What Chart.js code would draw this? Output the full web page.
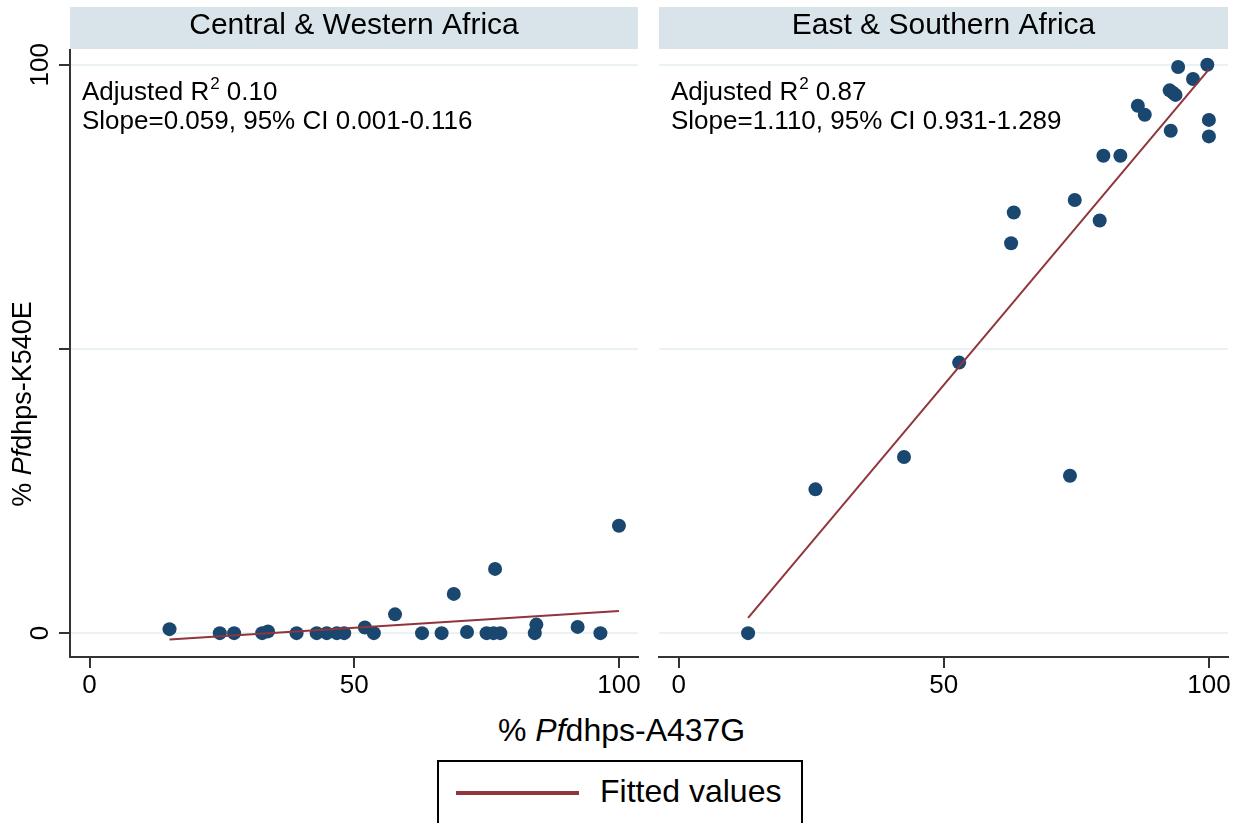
<!DOCTYPE html>
<html>
<head>
<meta charset="utf-8">
<script src="https://cdn.jsdelivr.net/npm/chart.js@4.4.1/dist/chart.umd.min.js"></script>
<style>
  body { margin:0; background:#fff; width:1240px; height:823px; position:relative; overflow:hidden;
         font-family:'Liberation Sans', Arial, sans-serif; color:#000; }
  #leftChart { position:absolute; left:0; top:0; }
  #rightChart { position:absolute; left:645px; top:0; }
  #xTitle { position:absolute; left:498px; top:712px; font-size:32px; white-space:nowrap; }
  #legend { position:absolute; left:437px; top:760px; width:366px; height:70px; border:2px solid #000; box-sizing:border-box; }
  #legend .swatch { position:absolute; left:17px; top:29px; width:123px; height:4px; background:#90353b; }
  #legend .lbl { position:absolute; left:161px; top:11px; font-size:32px; }
</style>
</head>
<body>
<canvas id="leftChart" width="645" height="712"></canvas>
<canvas id="rightChart" width="595" height="712"></canvas>
<div id="xTitle">% <i>Pf</i>dhps-A437G</div>
<div id="legend"><div class="swatch"></div><div class="lbl">Fitted values</div></div>

<script>
// panels
const panelTitles = ['Central & Western Africa', 'East & Southern Africa'];
const panelNotes = [
  ['Adjusted R', '0.10', 'Slope=0.059, 95% CI 0.001-0.116'],
  ['Adjusted R', '0.87', 'Slope=1.110, 95% CI 0.931-1.289']
];

// Central & Western Africa: % A437G vs % K540E
const cwX = [15.1, 24.6, 27.3, 32.6, 33.7, 39.1, 42.9, 44.8, 46.7, 48.1, 52.0, 53.7, 57.7,
             62.8, 66.5, 68.8, 71.3, 75.0, 76.3, 76.6, 77.6, 84.1, 84.4, 92.2, 96.5, 100];
const cwY = [0.7, 0, 0, 0, 0.3, 0, 0, 0, 0, 0, 1.0, 0, 3.3,
             0, 0, 6.9, 0.2, 0, 0, 11.3, 0, 0, 1.5, 1.1, 0, 18.9];
const cwFitX = [15.1, 100];
const cwFitY = [-1.1, 3.9];

// East & Southern Africa
const esX = [13.1, 25.8, 42.5, 52.9, 73.8, 62.7, 63.2, 74.7, 79.4, 80.1, 83.3, 86.6, 87.9,
             92.8, 92.6, 93.7, 93.2, 94.2, 97.0, 99.7, 100, 100];
const esY = [0, 25.3, 31.0, 47.6, 27.7, 68.6, 74.0, 76.2, 72.6, 84.0, 84.0, 92.8, 91.2,
             88.4, 95.5, 94.7, 95.1, 99.6, 97.5, 100, 90.3, 87.4];
const esFitX = [13.1, 100];
const esFitY = [2.7, 99.2];

const yTicks = [0, 50, 100];
const yTickLabels = ['0', '', '100'];
const xTicks = [0, 50, 100];

const FONT = "'Liberation Sans', Arial, sans-serif";
const markerColor = '#1a476f';
const fitColor = '#90353b';
const gridColor = '#eaf2f3';

function toPoints(xs, ys) {
  return xs.map((x, i) => ({ x: x, y: ys[i] }));
}

const panelDecor = {
  id: 'panelDecor',
  beforeDraw(chart, args, opts) {
    const ctx = chart.ctx, area = chart.chartArea;
    ctx.save();
    ctx.fillStyle = '#d9e4ea';
    ctx.fillRect(area.left, 7, area.right - area.left, 42);
    ctx.fillStyle = '#000';
    ctx.font = '30px ' + FONT;
    ctx.textAlign = 'center';
    ctx.textBaseline = 'alphabetic';
    ctx.fillText(opts.title, (area.left + area.right) / 2, 34);
    ctx.restore();
  },
  afterDraw(chart, args, opts) {
    const ctx = chart.ctx, area = chart.chartArea;
    ctx.save();
    ctx.fillStyle = '#000';
    ctx.textAlign = 'left';
    ctx.textBaseline = 'alphabetic';
    // first note line with superscript 2
    let x = area.left + 12;
    ctx.font = '26px ' + FONT;
    ctx.fillText(opts.notes[0], x, 100);
    x += ctx.measureText(opts.notes[0]).width + 1;
    ctx.font = '17px ' + FONT;
    ctx.fillText('2', x, 89);
    x += ctx.measureText('2').width;
    ctx.font = '26px ' + FONT;
    ctx.fillText(' ' + opts.notes[1], x, 100);
    ctx.fillText(opts.notes[2], area.left + 12, 129);
    if (opts.yLabels) {
      const ys = chart.scales.y;
      ctx.textAlign = 'center';
      yTicks.forEach((v, i) => {
        if (!yTickLabels[i]) return;
        ctx.save();
        ctx.translate(48, ys.getPixelForValue(v));
        ctx.rotate(-Math.PI / 2);
        ctx.fillText(yTickLabels[i], 0, 0);
        ctx.restore();
      });
      // y axis title
      ctx.save();
      ctx.translate(31, 404);
      ctx.rotate(-Math.PI / 2);
      ctx.textAlign = 'left';
      const parts = [['% ', ''], ['Pf', 'italic '], ['dhps-K540E', '']];
      let w = 0;
      parts.forEach(p => { ctx.font = p[1] + '27px ' + FONT; w += ctx.measureText(p[0]).width; });
      let px = -w / 2;
      parts.forEach(p => {
        ctx.font = p[1] + '27px ' + FONT;
        ctx.fillText(p[0], px, 0);
        px += ctx.measureText(p[0]).width;
      });
      ctx.restore();
    }
    ctx.restore();
  }
};

function makePanel(canvasId, idx, xs, ys, fx, fy, isLeft) {
  const ctx = document.getElementById(canvasId).getContext('2d');
  return new Chart(ctx, {
    type: 'scatter',
    data: {
      datasets: [{
        label: 'Observed',
        data: toPoints(xs, ys),
        backgroundColor: markerColor,
        borderColor: markerColor,
        borderWidth: 0,
        pointRadius: 7,
        order: 2
      }, {
        type: 'line',
        label: 'Fitted values',
        data: toPoints(fx, fy),
        borderColor: fitColor,
        borderWidth: 2,
        pointRadius: 0,
        fill: false,
        order: 1
      }]
    },
    options: {
      responsive: false,
      animation: false,
      layout: { padding: isLeft ? { top: 50, right: 7, left: 0, bottom: 0 } : { top: 50, right: 12, left: 14, bottom: 0 } },
      scales: {
        x: {
          type: 'linear',
          min: -3.7, max: 103.6,
          afterBuildTicks: s => { s.ticks = xTicks.map(v => ({ value: v })); },
          afterFit: s => { s.height = 55; },
          grid: { drawOnChartArea: false, drawTicks: true, tickLength: 11, tickColor: '#333', lineWidth: 2 },
          border: { display: true, color: '#333', width: 2 },
          ticks: { color: '#000', font: { family: FONT, size: 26 }, padding: 2, maxRotation: 0 }
        },
        y: {
          type: 'linear',
          min: -4.2, max: 102.6,
          afterBuildTicks: s => { s.ticks = yTicks.map(v => ({ value: v })); },
          afterFit: s => { s.width = isLeft ? 70 : 0; },
          grid: { color: gridColor, lineWidth: 2, drawTicks: isLeft, tickLength: 11, tickColor: '#333', tickWidth: 2 },
          border: { display: isLeft, color: '#333', width: 2 },
          ticks: { display: false }
        }
      },
      plugins: {
        legend: { display: false },
        tooltip: { enabled: false },
        panelDecor: { title: panelTitles[idx], notes: panelNotes[idx], yLabels: isLeft }
      }
    },
    plugins: [panelDecor]
  });
}

makePanel('leftChart', 0, cwX, cwY, cwFitX, cwFitY, true);
makePanel('rightChart', 1, esX, esY, esFitX, esFitY, false);
</script>
</body>
</html>
